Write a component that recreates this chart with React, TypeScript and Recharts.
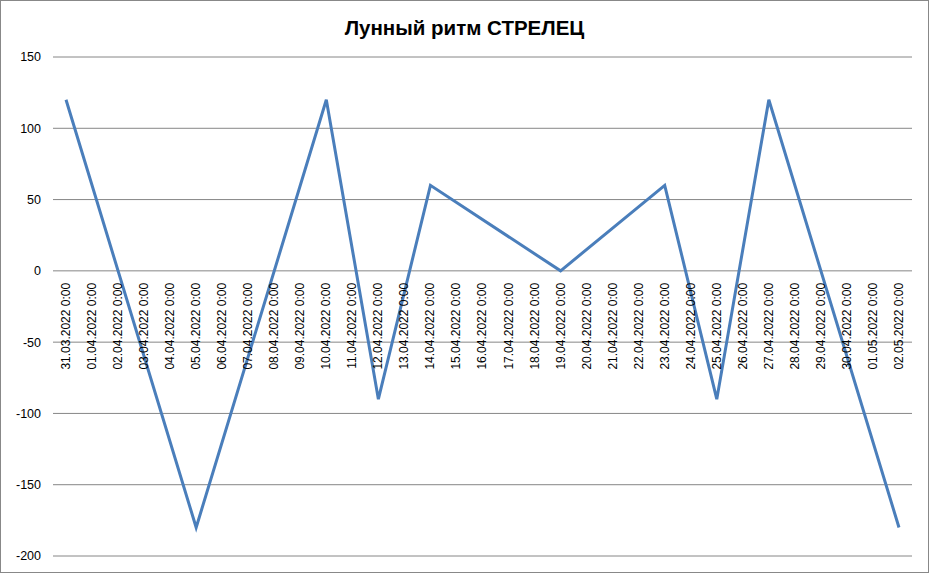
import React from 'react';
import { LineChart, Line, XAxis, YAxis, CartesianGrid, LabelList } from 'recharts';

// category labels (one per day)
const dates = [
  '31.03.2022 0:00', '01.04.2022 0:00', '02.04.2022 0:00', '03.04.2022 0:00',
  '04.04.2022 0:00', '05.04.2022 0:00', '06.04.2022 0:00', '07.04.2022 0:00',
  '08.04.2022 0:00', '09.04.2022 0:00', '10.04.2022 0:00', '11.04.2022 0:00',
  '12.04.2022 0:00', '13.04.2022 0:00', '14.04.2022 0:00', '15.04.2022 0:00',
  '16.04.2022 0:00', '17.04.2022 0:00', '18.04.2022 0:00', '19.04.2022 0:00',
  '20.04.2022 0:00', '21.04.2022 0:00', '22.04.2022 0:00', '23.04.2022 0:00',
  '24.04.2022 0:00', '25.04.2022 0:00', '26.04.2022 0:00', '27.04.2022 0:00',
  '28.04.2022 0:00', '29.04.2022 0:00', '30.04.2022 0:00', '01.05.2022 0:00',
  '02.05.2022 0:00',
];

// values only on the turning days, the rest are empty cells (connected)
const rhythm: (number | null)[] = [
  120, null, null, null, null, -180, null, null, null, null, 120, null,
  -90, null, 60, null, null, null, null, 0, null, null, null, 60,
  null, -90, null, 120, null, null, null, null, -180,
];

const yTicks = [-200, -150, -100, -50, 0, 50, 100, 150];

// axis crosses at 0, so the date labels hang off the zero line
const AXIS_CROSS = 0;

const data = dates.map((date, i) => ({ date, rhythm: rhythm[i], cross: AXIS_CROSS }));

const DateLabel = (props: any) => {
  const { x, y, value } = props;
  const ty = y + 12;
  return (
    <text
      x={x}
      y={ty}
      transform={`rotate(-90, ${x}, ${ty})`}
      textAnchor="end"
      dominantBaseline="central"
      fontSize={12}
      fontFamily="Liberation Sans, Arial, sans-serif"
      fill="#000"
    >
      {value}
    </text>
  );
};

export default function App() {
  return (
    <div
      style={{
        position: 'absolute',
        left: 0,
        top: 0,
        width: 927,
        height: 571,
        border: '1px solid #888888',
        background: '#fff',
      }}
    >
      <div
        style={{
          position: 'absolute',
          left: 0,
          top: 15,
          width: 927,
          textAlign: 'center',
          fontFamily: 'Liberation Sans, Arial, sans-serif',
          fontWeight: 'bold',
          fontSize: 20.5,
          color: '#000',
        }}
      >
        Лунный ритм СТРЕЛЕЦ
      </div>
      <LineChart
        width={927}
        height={571}
        data={data}
        margin={{ top: 56, right: 16, bottom: 16, left: 0 }}
      >
        <CartesianGrid vertical={false} stroke="#868686" strokeWidth={1} />
        <XAxis dataKey="date" scale="band" hide />
        <YAxis
          width={52}
          domain={[-200, 150]}
          ticks={yTicks}
          axisLine={false}
          tickLine={false}
          tickSize={0}
          tickMargin={12}
          tick={{ fontSize: 12.5, fill: '#000', fontFamily: 'Liberation Sans, Arial, sans-serif' }}
        />
        <Line
          dataKey="cross"
          stroke="none"
          dot={false}
          activeDot={false}
          isAnimationActive={false}
        >
          <LabelList dataKey="date" content={DateLabel} />
        </Line>
        <Line
          dataKey="rhythm"
          type="linear"
          stroke="#4A7EBB"
          strokeWidth={3}
          dot={false}
          activeDot={false}
          connectNulls
          isAnimationActive={false}
        />
      </LineChart>
    </div>
  );
}
